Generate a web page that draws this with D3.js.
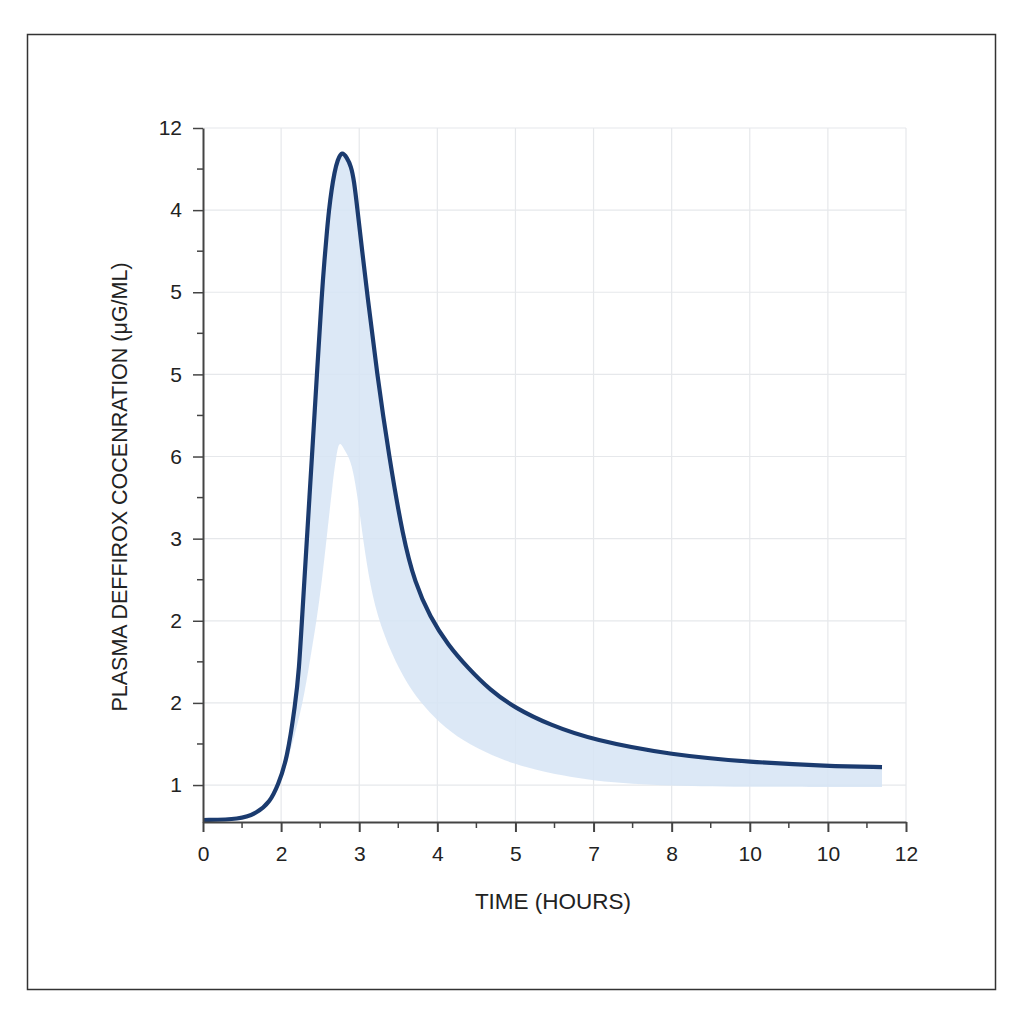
<!DOCTYPE html>
<html>
<head>
<meta charset="utf-8">
<script src="https://cdn.jsdelivr.net/npm/d3@7"></script>
<style>
  html, body { margin: 0; padding: 0; background: #fff; }
  svg { display: block; }
</style>
</head>
<body>
<svg id="chart" width="1024" height="1024"></svg>
<script>
// ---- Data (positions in tick-index units, labels as printed) ----
const xTickLabels = ["0", "2", "3", "4", "5", "7", "8", "10", "10", "12"];
const yTickLabels = ["1", "2", "2", "3", "6", "5", "5", "4", "12"];

// mean concentration curve
const meanX = [0, 0.474, 0.691, 0.858, 0.960, 1.075, 1.184, 1.229, 1.267, 1.331, 1.395, 1.459, 1.523, 1.555, 1.588, 1.613, 1.645, 1.684, 1.722, 1.780, 1.844, 1.895, 1.933, 1.978, 2.036, 2.100, 2.228, 2.381, 2.561, 2.714, 2.906, 3.137, 3.393, 3.674, 3.994, 4.442, 4.993, 6.004, 7.003, 8.002, 8.693];
const meanY = [-0.426, -0.420, -0.341, -0.207, 0, 0.304, 0.998, 1.400, 2.009, 3.008, 4.006, 5.005, 6.003, 6.393, 6.758, 7.002, 7.245, 7.464, 7.610, 7.720, 7.635, 7.537, 7.367, 7.002, 6.515, 6.003, 5.005, 4.006, 3.008, 2.460, 2.046, 1.705, 1.425, 1.157, 0.938, 0.731, 0.548, 0.365, 0.280, 0.231, 0.219];

// lower bound of the shaded band
const lowX = [0.794, 0.999, 1.139, 1.280, 1.370, 1.456, 1.523, 1.584, 1.664, 1.703, 1.741, 1.792, 1.844, 1.904, 1.968, 2.032, 2.116, 2.228, 2.420, 2.612, 2.842, 3.098, 3.418, 3.802, 4.186, 4.993, 6.004, 7.003, 8.693];
const lowY = [-0.274, 0, 0.487, 0.998, 1.522, 2.009, 2.496, 3.008, 3.714, 3.982, 4.190, 4.116, 4.031, 3.909, 3.580, 3.117, 2.557, 2.058, 1.583, 1.230, 0.938, 0.694, 0.487, 0.317, 0.195, 0.037, -0.012, -0.024, -0.024];

const xLabel = "TIME (HOURS)";
const yLabel = "PLASMA DEFFIROX COCENRATION (μG/ML)";

// ---- Layout ----
const svg = d3.select("#chart");
const mLeft = 203, mRight = 906, mTop = 128, mBottom = 822;

const x = d3.scaleLinear().domain([0, 9]).range([mLeft, mRight]);
const y = d3.scaleLinear().domain([-0.45, 8]).range([mBottom, mTop]);

const font = "'Liberation Sans', Arial, Helvetica, sans-serif";
const curve = d3.curveBasis;

// frame
svg.append("rect")
  .attr("x", 27.5).attr("y", 34.5).attr("width", 968).attr("height", 955)
  .attr("fill", "none").attr("stroke", "#333").attr("stroke-width", 1.5);

// grid
const xMajor = d3.range(0, 10);
const yMajor = d3.range(0, 9);
svg.append("g").selectAll("line").data(xMajor.slice(1)).join("line")
  .attr("x1", d => x(d)).attr("x2", d => x(d))
  .attr("y1", mTop).attr("y2", mBottom)
  .attr("stroke", "#e6e8eb").attr("stroke-width", 1.2);
svg.append("g").selectAll("line").data(yMajor).join("line")
  .attr("x1", mLeft).attr("x2", mRight)
  .attr("y1", d => y(d)).attr("y2", d => y(d))
  .attr("stroke", "#e6e8eb").attr("stroke-width", 1.2);

// band: area under mean curve, clipped to the region above the lower bound
const meanPts = meanX.map((v, i) => [v, meanY[i]]);
const lowPts = lowX.map((v, i) => [v, lowY[i]]);

svg.append("clipPath").attr("id", "aboveLow")
  .append("path")
  .attr("d", d3.area().x(d => x(d[0])).y0(0).y1(d => y(d[1])).curve(curve)(lowPts));

svg.append("path")
  .attr("d", d3.area().x(d => x(d[0])).y0(mBottom).y1(d => y(d[1])).curve(curve)(meanPts))
  .attr("clip-path", "url(#aboveLow)")
  .attr("fill", "#d6e4f4").attr("fill-opacity", 0.85).attr("stroke", "none");

// mean line
svg.append("path")
  .attr("d", d3.line().x(d => x(d[0])).y(d => y(d[1])).curve(curve)(meanPts))
  .attr("fill", "none").attr("stroke", "#1b3b6f").attr("stroke-width", 4.2)
  .attr("stroke-linejoin", "round");

// axes
const axisColor = "#444";
const xg = svg.append("g").attr("transform", `translate(0,${mBottom})`)
  .call(d3.axisBottom(x).tickValues(xMajor).tickFormat(d => xTickLabels[d]).tickSize(10).tickPadding(14).tickSizeOuter(0));
xg.select(".domain").attr("stroke", axisColor).attr("stroke-width", 2);
xg.selectAll(".tick line").attr("stroke", axisColor).attr("stroke-width", 2);
xg.selectAll("text").attr("font-family", font).attr("font-size", 21).attr("fill", "#222");
svg.append("g").selectAll("line").data(d3.range(0.5, 9, 1)).join("line")
  .attr("x1", d => x(d)).attr("x2", d => x(d))
  .attr("y1", mBottom).attr("y2", mBottom + 6)
  .attr("stroke", axisColor).attr("stroke-width", 1.5);

const yg = svg.append("g").attr("transform", `translate(${mLeft},0)`)
  .call(d3.axisLeft(y).tickValues(yMajor).tickFormat(d => yTickLabels[d]).tickSize(10).tickPadding(11).tickSizeOuter(0));
yg.select(".domain").attr("stroke", axisColor).attr("stroke-width", 2);
yg.selectAll(".tick line").attr("stroke", axisColor).attr("stroke-width", 1.5);
yg.selectAll("text").attr("font-family", font).attr("font-size", 21).attr("fill", "#222");
svg.append("g").selectAll("line").data(d3.range(0.5, 8, 1)).join("line")
  .attr("x1", mLeft - 6).attr("x2", mLeft)
  .attr("y1", d => y(d)).attr("y2", d => y(d))
  .attr("stroke", axisColor).attr("stroke-width", 1.5);

// titles
svg.append("text").attr("x", 553).attr("y", 909)
  .attr("text-anchor", "middle").attr("font-family", font).attr("font-size", 22.5).attr("fill", "#222")
  .text(xLabel);
svg.append("text").attr("transform", "translate(127,487) rotate(-90)")
  .attr("text-anchor", "middle").attr("font-family", font).attr("font-size", 21.5).attr("fill", "#222")
  .text(yLabel);
</script>
</body>
</html>
